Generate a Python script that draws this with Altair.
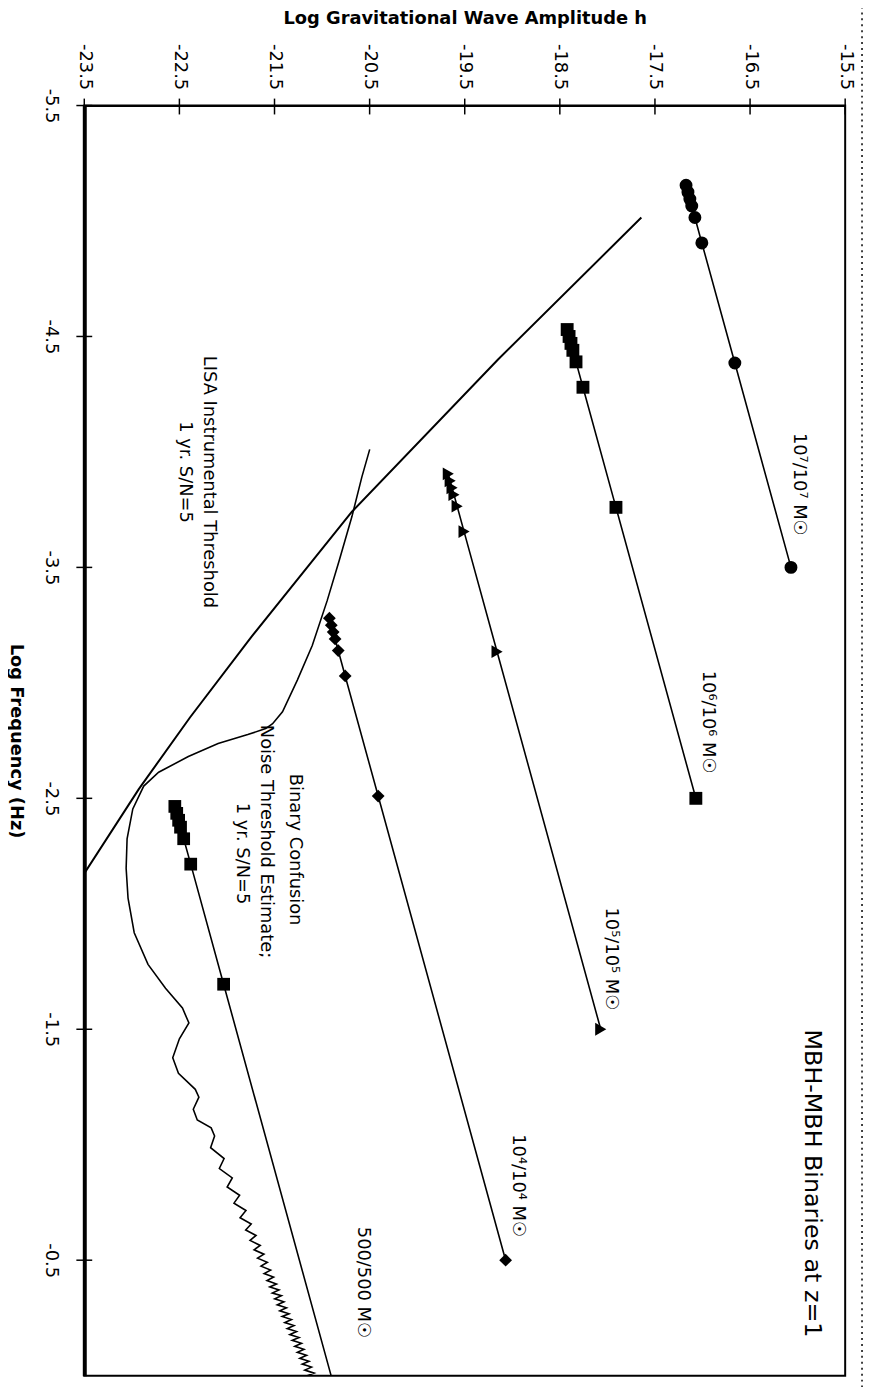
import altair as alt
import pandas as pd

# ---------------- data (log f in Hz, log h) ----------------
x_ticks = [-23.5, -22.5, -21.5, -20.5, -19.5, -18.5, -17.5, -16.5, -15.5]
y_ticks = [-5.5, -4.5, -3.5, -2.5, -1.5, -0.5]

# MBH-MBH binary tracks (markers)
A_f = [-5.155, -5.125, -5.095, -5.065, -5.015, -4.905, -4.385, -3.5]
A_h = [-17.173, -17.153, -17.133, -17.113, -17.080, -17.007, -16.660, -16.070]
B_f = [-4.53, -4.50, -4.47, -4.44, -4.39, -4.28, -3.76, -2.5]
B_h = [-18.423, -18.403, -18.383, -18.363, -18.330, -18.257, -17.910, -17.070]
C_f = [-3.905, -3.875, -3.845, -3.815, -3.765, -3.655, -3.135, -1.5]
C_h = [-19.673, -19.653, -19.633, -19.613, -19.580, -19.507, -19.160, -18.070]
D_f = [-3.28, -3.25, -3.22, -3.19, -3.14, -3.03, -2.51, -0.5]
D_h = [-20.923, -20.903, -20.883, -20.863, -20.830, -20.757, -20.410, -19.070]
E_f = [-2.465, -2.435, -2.405, -2.375, -2.325, -2.215, -1.695]
E_h = [-22.548, -22.528, -22.508, -22.488, -22.455, -22.381, -22.035]
E_line_end_f = [0.0]
E_line_end_h = [-20.905]

series_names = ["A", "B", "C", "D", "E"]
series_shapes = ["circle", "square", "triangle-right", "diamond", "square"]
series_sizes = [170, 165, 260, 210, 165]

# LISA instrumental threshold
L_f = [-5.015, -4.4, -3.741, -3.2, -2.85, -2.54, -2.175]
L_h = [-17.643, -19.150, -20.686, -21.741, -22.389, -22.927, -23.5]

# Binary confusion noise estimate
BC_f0 = [-4.011, -3.891, -3.720, -3.527, -3.355, -3.162, -3.012, -2.875, -2.823, -2.802,
         -2.776, -2.737, -2.681, -2.613, -2.553, -2.454, -2.325, -2.197, -2.068, -1.918,
         -1.781, -1.678, -1.592, -1.527, -1.459, -1.377, -1.309, -1.240, -1.206, -1.154,
         -1.107, -1.073]
BC_h0 = [-20.499, -20.582, -20.686, -20.822, -20.947, -21.103, -21.260, -21.416, -21.520, -21.593,
         -21.781, -22.093, -22.406, -22.718, -22.875, -22.990, -23.050, -23.060, -23.040, -22.975,
         -22.830, -22.646, -22.468, -22.400, -22.500, -22.570, -22.510, -22.333, -22.295, -22.354,
         -22.312, -22.166]
BC_f1 = [-1.038, -0.987, -0.940, -0.897, -0.856, -0.817, -0.781, -0.747, -0.715, -0.684,
         -0.657, -0.631, -0.607, -0.586, -0.564, -0.545, -0.526, -0.509, -0.491, -0.474,
         -0.457, -0.442, -0.427, -0.412, -0.397, -0.384, -0.371, -0.358, -0.346, -0.333,
         -0.320, -0.307, -0.294, -0.281, -0.268, -0.256, -0.243, -0.230, -0.217, -0.204,
         -0.191, -0.178, -0.165, -0.153, -0.140, -0.127, -0.114, -0.101, -0.088, -0.075,
         -0.062, -0.050, -0.037, -0.024, -0.011, 0.000]
BC_h1 = [-22.130, -22.172, -22.030, -22.080, -21.944, -21.998, -21.867, -21.926, -21.800, -21.862,
         -21.745, -21.803, -21.694, -21.757, -21.650, -21.715, -21.611, -21.678, -21.575, -21.642,
         -21.541, -21.609, -21.510, -21.579, -21.479, -21.550, -21.453, -21.523, -21.427, -21.498,
         -21.401, -21.471, -21.374, -21.445, -21.347, -21.419, -21.322, -21.392, -21.295, -21.366,
         -21.268, -21.339, -21.242, -21.314, -21.216, -21.287, -21.190, -21.260, -21.163, -21.234,
         -21.137, -21.208, -21.111, -21.182, -21.084, -21.157]

# annotations
ann_text = ["10⁷/10⁷ M☉", "10⁶/10⁶ M☉", "10⁵/10⁵ M☉", "10⁴/10⁴ M☉", "500/500 M☉",
            "LISA Instrumental Threshold", "1 yr. S/N=5",
            "Binary Confusion", "Noise Threshold Estimate;", "1 yr. S/N=5"]
ann_h = [-15.985, -16.945, -17.960, -18.940, -20.565, -22.185, -22.440, -21.280, -21.593, -21.843]
ann_f = [-3.860, -2.830, -1.805, -0.823, -0.404, -3.870, -3.913, -2.278, -2.313, -2.261]
big_text = ["MBH-MBH Binaries at z=1"]
big_h = [-15.851]
big_f = [-0.832]

# ---------------- tables ----------------
def track(name, f, h):
    return pd.DataFrame({"series": name, "f": f, "h": h, "i": list(range(len(f)))})

markers = pd.concat([track("A", A_f, A_h), track("B", B_f, B_h), track("C", C_f, C_h),
                     track("D", D_f, D_h), track("E", E_f, E_h)], ignore_index=True)
tracks = pd.concat([track("A", A_f, A_h), track("B", B_f, B_h), track("C", C_f, C_h),
                    track("D", D_f, D_h),
                    track("E", E_f + E_line_end_f, E_h + E_line_end_h)], ignore_index=True)
lisa = track("LISA", L_f, L_h)
conf = track("BC", BC_f0 + BC_f1, BC_h0 + BC_h1)
ann = pd.DataFrame({"label": ann_text, "h": ann_h, "f": ann_f})
big = pd.DataFrame({"label": big_text, "h": big_h, "f": big_f})
xt = pd.DataFrame({"h": x_ticks})
yt = pd.DataFrame({"f": y_ticks})

FONT = "DejaVu Sans"
W, H = 768, 1282
label_expr = "(datum.value < 0 ? '-' : '') + format(abs(datum.value), '.1f')"

X = alt.X("h:Q",
          scale=alt.Scale(domain=[-23.5, -15.5], nice=False, zero=False),
          axis=alt.Axis(orient="top", values=x_ticks, ticks=False, grid=False,
                        domainColor="black", domainWidth=2,
                        labelAngle=90, labelAlign="right", labelBaseline="middle",
                        labelPadding=16, labelFlush=False, labelOverlap=False,
                        labelFont=FONT, labelFontSize=18, labelColor="black",
                        labelExpr=label_expr,
                        title="Log Gravitational Wave Amplitude h",
                        titleFont=FONT, titleFontSize=18, titleFontWeight="bold",
                        titleColor="black", titleAngle=0, titleAlign="center",
                        titleBaseline="middle", titleX=W / 2, titleY=-88))
Y = alt.Y("f:Q",
          scale=alt.Scale(domain=[-5.5, 0], reverse=True, nice=False, zero=False),
          axis=alt.Axis(orient="left", values=y_ticks, ticks=False, grid=False,
                        domainColor="black", domainWidth=4,
                        labelAngle=90, labelAlign="center", labelBaseline="top",
                        labelPadding=25, labelFlush=False, labelOverlap=False,
                        labelFont=FONT, labelFontSize=18, labelColor="black",
                        labelExpr=label_expr,
                        title="Log Frequency (Hz)",
                        titleFont=FONT, titleFontSize=18, titleFontWeight="bold",
                        titleColor="black", titleAngle=90, titleAlign="center",
                        titleBaseline="middle", titleX=-69, titleY=H / 2))

lines_layer = alt.Chart(tracks).mark_line(color="black", strokeWidth=1.6, clip=True).encode(
    x=X, y=Y, detail="series:N", order="i:Q")
lisa_layer = alt.Chart(lisa).mark_line(color="black", strokeWidth=2, clip=True).encode(
    x=X, y=Y, order="i:Q")
conf_layer = alt.Chart(conf).mark_line(color="black", strokeWidth=1.6, clip=True).encode(
    x=X, y=Y, order="i:Q")
pts_layer = alt.Chart(markers).mark_point(filled=True, color="black", opacity=1).encode(
    x=X, y=Y,
    shape=alt.Shape("series:N", scale=alt.Scale(domain=series_names, range=series_shapes),
                    legend=None),
    size=alt.Size("series:N", scale=alt.Scale(domain=series_names, range=series_sizes),
                  legend=None))
ann_layer = alt.Chart(ann).mark_text(angle=90, font=FONT, fontSize=18, color="black",
                                     align="center", baseline="middle").encode(
    x=X, y=Y, text="label:N")
big_layer = alt.Chart(big).mark_text(angle=90, font=FONT, fontSize=24, color="black",
                                     align="center", baseline="middle").encode(
    x=X, y=Y, text="label:N")
xtick_layer = alt.Chart(xt).mark_rule(color="black", strokeWidth=1.5).encode(
    x=X, y=alt.value(-7), y2=alt.value(9))
ytick_layer = alt.Chart(yt).mark_rule(color="black", strokeWidth=1.5).encode(
    y=Y, x=alt.value(-8), x2=alt.value(8))
border_layer = alt.Chart(pd.DataFrame({"a": [0]})).mark_rule(
    color="black", strokeWidth=1.5, strokeDash=[2, 4]).encode(
    x=alt.value(W + 17), y=alt.value(-100), y2=alt.value(H + 20))

chart = alt.layer(
    lisa_layer, conf_layer, lines_layer, pts_layer, ann_layer, big_layer,
    xtick_layer, ytick_layer, border_layer
).properties(
    width=W, height=H,
    padding={"left": 77, "top": 92, "right": 19, "bottom": 5},
    autosize=alt.AutoSizeParams(type="none"),
    background="white",
).configure_view(stroke="black", strokeWidth=2)

chart.save("out.html", embed_options={"renderer": "svg", "actions": False})
